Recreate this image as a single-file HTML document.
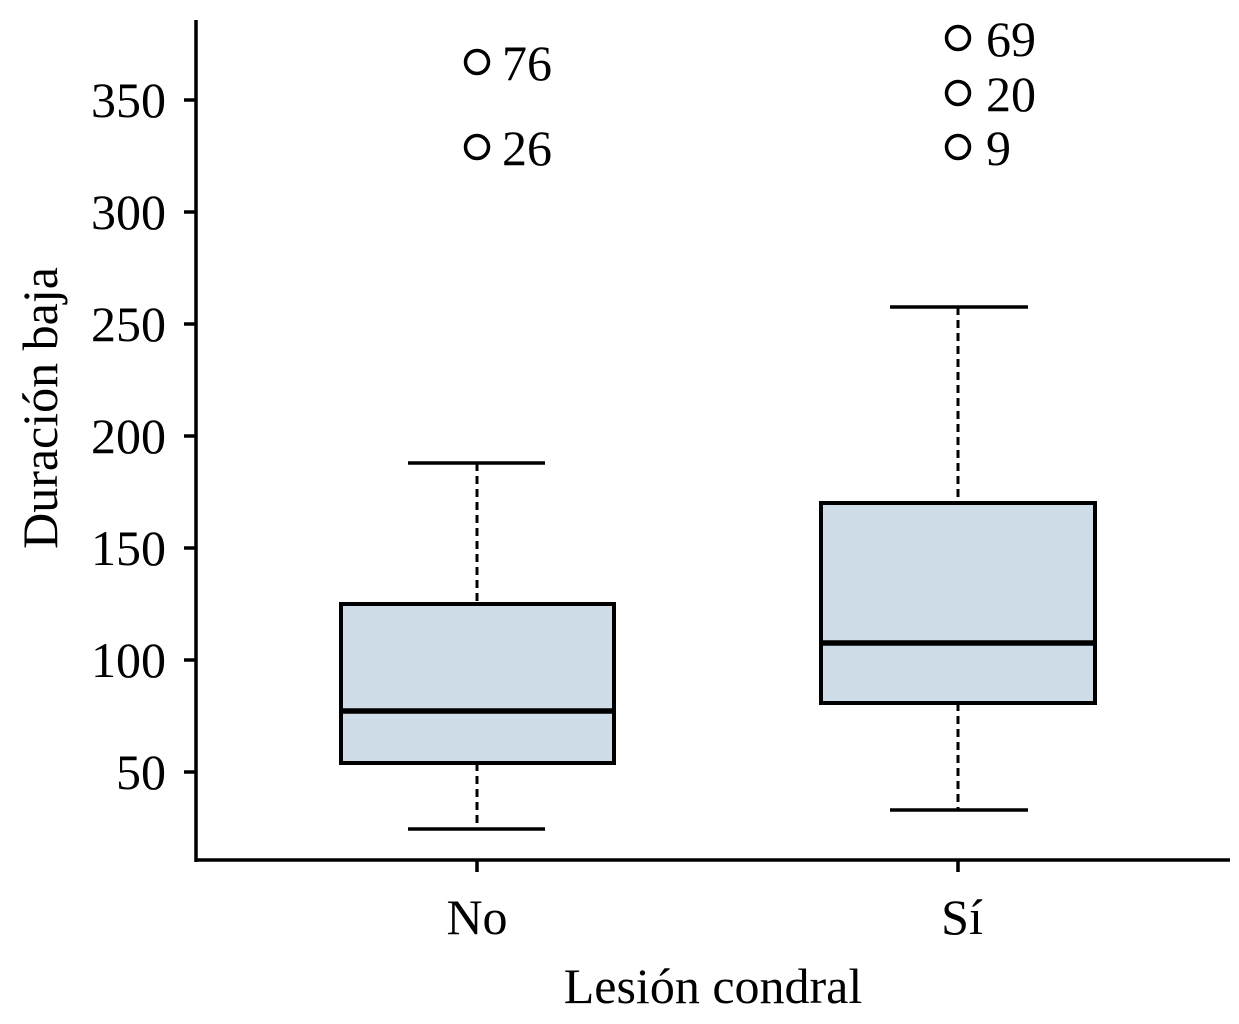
<!DOCTYPE html>
<html><head><style>
html,body{margin:0;padding:0;background:#fff;}
svg{display:block;}
text{font-family:"Liberation Serif",serif;fill:#000;font-size:50px;}
</style></head><body>
<svg width="1239" height="1024" viewBox="0 0 1239 1024" xmlns="http://www.w3.org/2000/svg">
<g stroke="#000" stroke-width="3.5" fill="none">
<line x1="196" y1="20" x2="196" y2="862"/>
<line x1="195" y1="860" x2="1230" y2="860"/>
<line x1="184" y1="100" x2="196" y2="100"/>
<line x1="184" y1="212" x2="196" y2="212"/>
<line x1="184" y1="324" x2="196" y2="324"/>
<line x1="184" y1="436" x2="196" y2="436"/>
<line x1="184" y1="548" x2="196" y2="548"/>
<line x1="184" y1="660" x2="196" y2="660"/>
<line x1="184" y1="772" x2="196" y2="772"/>
<line x1="477" y1="860" x2="477" y2="872"/>
<line x1="958" y1="860" x2="958" y2="872"/>
</g>
<g text-anchor="end">
<text x="166" y="117">350</text>
<text x="166" y="229">300</text>
<text x="166" y="341">250</text>
<text x="166" y="453">200</text>
<text x="166" y="565">150</text>
<text x="166" y="677">100</text>
<text x="166" y="789">50</text>
</g>
<g text-anchor="middle">
<text x="477" y="934">No</text>
<text x="962" y="934">Sí</text>
<text x="713" y="1003">Lesión condral</text>
<text transform="translate(57,408) rotate(-90)">Duración baja</text>
</g>
<g stroke="#000" stroke-width="3" fill="none">
<line x1="477" y1="463" x2="477" y2="604" stroke-dasharray="8,5"/>
<line x1="477" y1="763" x2="477" y2="829" stroke-dasharray="8,5"/>
<line x1="408" y1="829" x2="545" y2="829" stroke-width="3.5"/>
<line x1="408" y1="463" x2="545" y2="463" stroke-width="3.5"/>
<rect x="341" y="604" width="273" height="159" fill="#cfdde9" stroke-width="4"/>
<line x1="341" y1="711" x2="614" y2="711" stroke-width="5.5"/>
<line x1="958" y1="307" x2="958" y2="503" stroke-dasharray="8,5"/>
<line x1="958" y1="703" x2="958" y2="810" stroke-dasharray="8,5"/>
<line x1="890" y1="810" x2="1028" y2="810" stroke-width="3.5"/>
<line x1="890" y1="307" x2="1028" y2="307" stroke-width="3.5"/>
<rect x="821" y="503" width="274" height="200" fill="#cfdde9" stroke-width="4"/>
<line x1="821" y1="643" x2="1095" y2="643" stroke-width="5.5"/>
<g stroke-width="3.5">
<circle cx="477" cy="62" r="11.5"/>
<circle cx="477" cy="147" r="11.5"/>
<circle cx="958" cy="38" r="11.5"/>
<circle cx="958" cy="93" r="11.5"/>
<circle cx="958" cy="147" r="11.5"/>
</g>
</g>
<g>
<text x="502" y="80">76</text>
<text x="502" y="165">26</text>
<text x="986" y="56">69</text>
<text x="986" y="111">20</text>
<text x="986" y="165">9</text>
</g>
</svg>
</body></html>
